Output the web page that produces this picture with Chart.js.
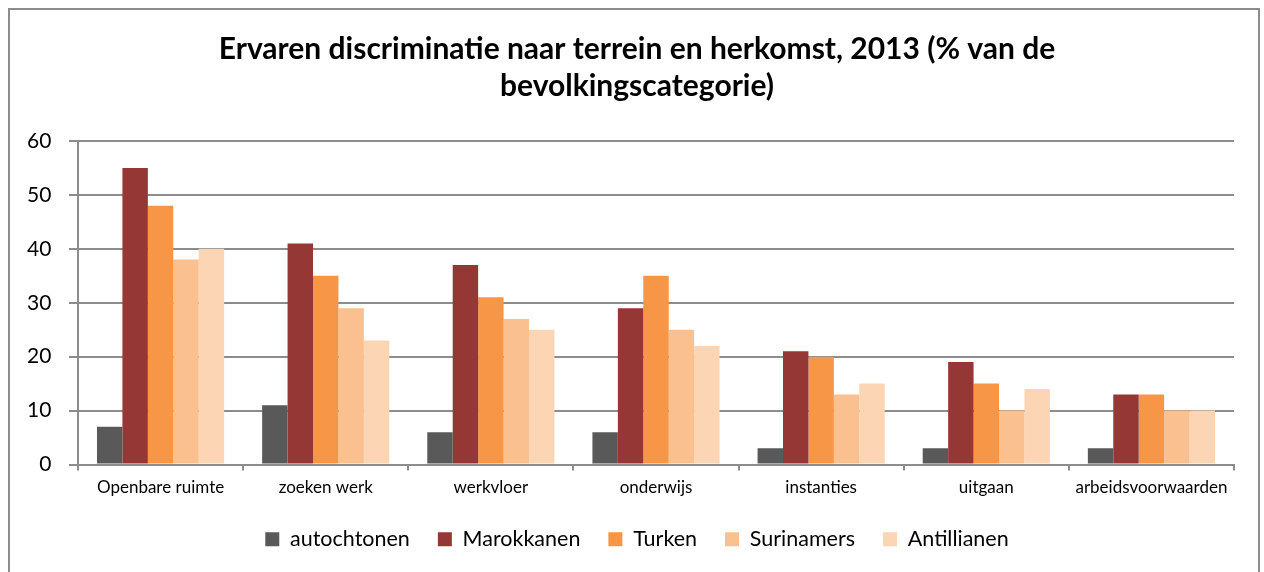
<!DOCTYPE html>
<html lang="nl">
  <head>
    <meta charset="utf-8" />
    <title>Ervaren discriminatie</title>
    <style>
      * {
        margin: 0;
        padding: 0;
      }
      body {
        width: 1264px;
        height: 572px;
        overflow: hidden;
        background: white;
        position: relative;
      }
      .frame {
        position: absolute;
        left: 8px;
        top: 8px;
        width: 1248px;
        height: 600px;
        border: 2px solid #8c8c8c;
      }
      #myChart {
        position: absolute;
        left: 0;
        top: 0;
      }
    </style>
  </head>
  <body>
    <div class="frame"></div>
    <canvas id="myChart" width="1264" height="572"></canvas>

    <script src="https://cdn.jsdelivr.net/npm/chart.js@4.4.0/dist/chart.umd.min.js"></script>

    <script>
      const categories = [
        "Openbare ruimte",
        "zoeken werk",
        "werkvloer",
        "onderwijs",
        "instanties",
        "uitgaan",
        "arbeidsvoorwaarden",
      ];
      const autochtonen = [7, 11, 6, 6, 3, 3, 3];
      const marokkanen = [55, 41, 37, 29, 21, 19, 13];
      const turken = [48, 35, 31, 35, 20, 15, 13];
      const surinamers = [38, 29, 27, 25, 13, 10, 10];
      const antillianen = [40, 23, 25, 22, 15, 14, 10];
      const yTicks = [0, 10, 20, 30, 40, 50, 60];

      const font = "Lato, 'Liberation Sans', sans-serif";

      const series = [
        { label: "autochtonen", data: autochtonen, color: "#595959" },
        { label: "Marokkanen", data: marokkanen, color: "#953735" },
        { label: "Turken", data: turken, color: "#f79646" },
        { label: "Surinamers", data: surinamers, color: "#fac090" },
        { label: "Antillianen", data: antillianen, color: "#fcd5b5" },
      ];

      const config = {
        type: "bar",
        data: {
          labels: categories,
          datasets: series.map((s) => ({
            label: s.label,
            data: s.data,
            backgroundColor: s.color,
            borderWidth: 0,
            barPercentage: 1,
            categoryPercentage: 0.77,
          })),
        },
        options: {
          responsive: false,
          animation: false,
          layout: {
            padding: { left: 40, right: 30, top: 0, bottom: 12 },
          },
          scales: {
            x: {
              afterFit: (scale) => {
                scale.height = 36;
              },
              grid: {
                drawOnChartArea: false,
                drawTicks: true,
                tickLength: 6,
                color: "#8c8c8c",
                lineWidth: 2,
              },
              border: { color: "#8c8c8c", width: 2 },
              ticks: {
                color: "#000",
                font: { family: font, size: 17 },
                padding: 7,
                maxRotation: 0,
                autoSkip: false,
              },
            },
            y: {
              min: 0,
              max: 60,
              afterFit: (scale) => {
                scale.width = 38;
              },
              afterBuildTicks: (scale) => {
                scale.ticks = yTicks.map((v) => ({ value: v }));
              },
              grid: {
                color: "#8c8c8c",
                lineWidth: 2,
                tickLength: 9,
              },
              border: { color: "#8c8c8c", width: 2 },
              // mirrored labels are not clipped to the scale box,
              // so they can sit left of it (centres title and legend)
              ticks: {
                color: "#000",
                font: { family: font, size: 21 },
                mirror: true,
                crossAlign: "far",
                padding: -51,
              },
            },
          },
          plugins: {
            title: {
              display: true,
              text: [
                "Ervaren discriminatie naar terrein en herkomst, 2013 (% van de",
                "bevolkingscategorie)",
              ],
              color: "#000",
              font: { family: font, size: 30, weight: "bold", lineHeight: 1.2333 },
              padding: { top: 31, bottom: 36 },
            },
            legend: {
              position: "bottom",
              labels: {
                color: "#000",
                font: { family: font, size: 21.5 },
                boxWidth: 14,
                boxHeight: 14,
                padding: 28,
              },
            },
            tooltip: { enabled: false },
          },
        },
      };

      const myChart = new Chart(document.getElementById("myChart"), config);
    </script>
  </body>
</html>
